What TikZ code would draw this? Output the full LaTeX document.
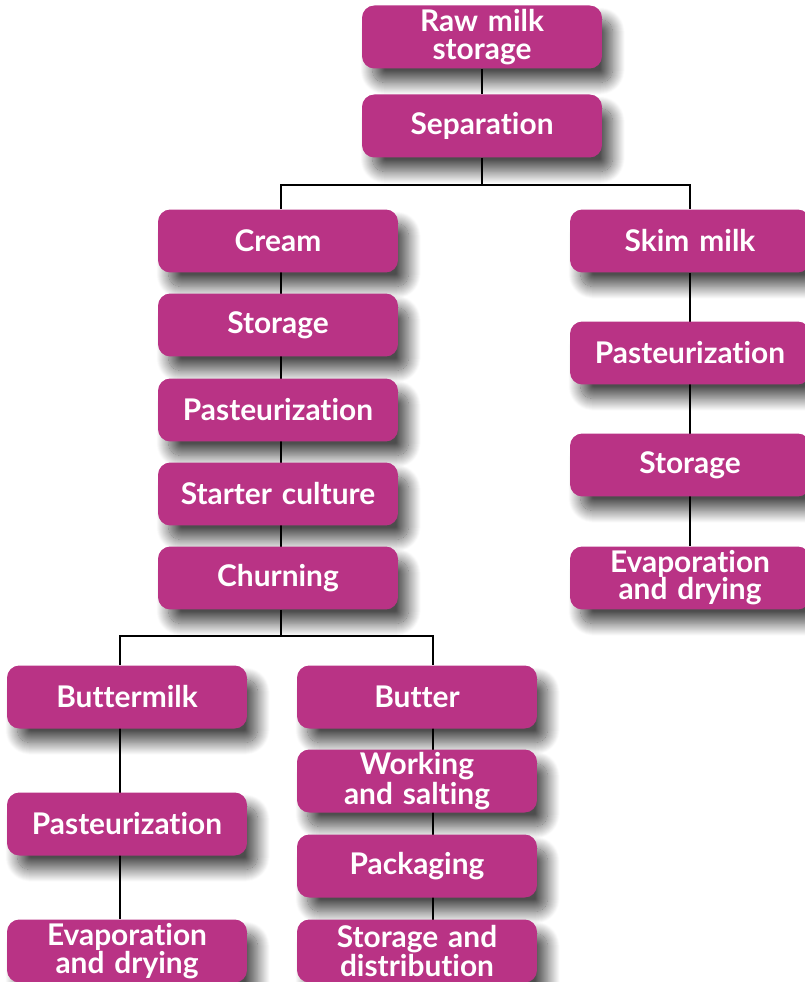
\documentclass[tikz,border=0pt]{standalone}
\usepackage{fontspec}
\setmainfont{Lato}[Ligatures=NoCommon]
\usetikzlibrary{shadows.blur,backgrounds}
\definecolor{boxmagenta}{HTML}{B93385}

\begin{document}
\begin{tikzpicture}[x=0.02cm, y=-0.02cm,
	stepbox/.style={fill=boxmagenta, rounded corners=7pt, minimum width=4.8cm, minimum height=1.26cm,
		text width=4.7cm, align=center, text=white, inner sep=0pt,
		font=\bfseries\fontsize{17}{15.5}\selectfont,
		blur shadow={shadow xshift=6pt, shadow yshift=-8pt, shadow blur radius=7pt,
			shadow blur steps=25, shadow opacity=70}},
	link/.style={line width=1.3pt, black}]
	\useasboundingbox (0,0) rectangle (804,982);

	% Top of the chain
	\node[stepbox] (raw) at (482,37) {Raw milk\\storage};
	\node[stepbox] (sep) at (482,126) {Separation};

	% Cream branch
	\node[stepbox] (cream) at (278,241) {Cream};
	\node[stepbox] (cstore) at (278,325) {Storage};
	\node[stepbox] (cpast) at (278,410) {Pasteurization};
	\node[stepbox] (starter) at (278,494) {Starter culture};
	\node[stepbox] (churn) at (278,578) {Churning};

	% Skim milk branch
	\node[stepbox] (skim) at (690,241) {Skim milk};
	\node[stepbox] (spast) at (690,353) {Pasteurization};
	\node[stepbox] (sstore) at (690,465) {Storage};
	\node[stepbox] (sevap) at (690,578) {Evaporation\\and drying};

	% Buttermilk branch
	\node[stepbox] (bmilk) at (127,697) {Buttermilk};
	\node[stepbox] (bpast) at (127,824) {Pasteurization};
	\node[stepbox] (bevap) at (127,951) {Evaporation\\and drying};

	% Butter branch
	\node[stepbox] (butter) at (417,697) {Butter};
	\node[stepbox] (work) at (417,781) {Working\\and salting};
	\node[stepbox] (pack) at (417,866) {Packaging};
	\node[stepbox] (distr) at (417,951) {Storage and\\distribution};

	% Junctions
	\coordinate (split) at (482,185);
	\coordinate (csplit) at (281,636);

	% Connectors
	\begin{scope}[on background layer]
		\draw[link] (raw) -- (sep);
		\draw[link] (sep) -- (split);
		\draw[link] (split) -| (281,209);
		\draw[link] (split) -| (skim.north);
		\draw[link] (281,272) -- (281,547);
		\draw[link] (skim) -- (sevap);
		\draw[link] (churn.south -| csplit) -- (csplit);
		\draw[link] (csplit) -| (120,665);
		\draw[link] (csplit) -| (433,665);
		\draw[link] (120,728) -- (120,919);
		\draw[link] (433,728) -- (433,920);
	\end{scope}
\end{tikzpicture}
\end{document}
